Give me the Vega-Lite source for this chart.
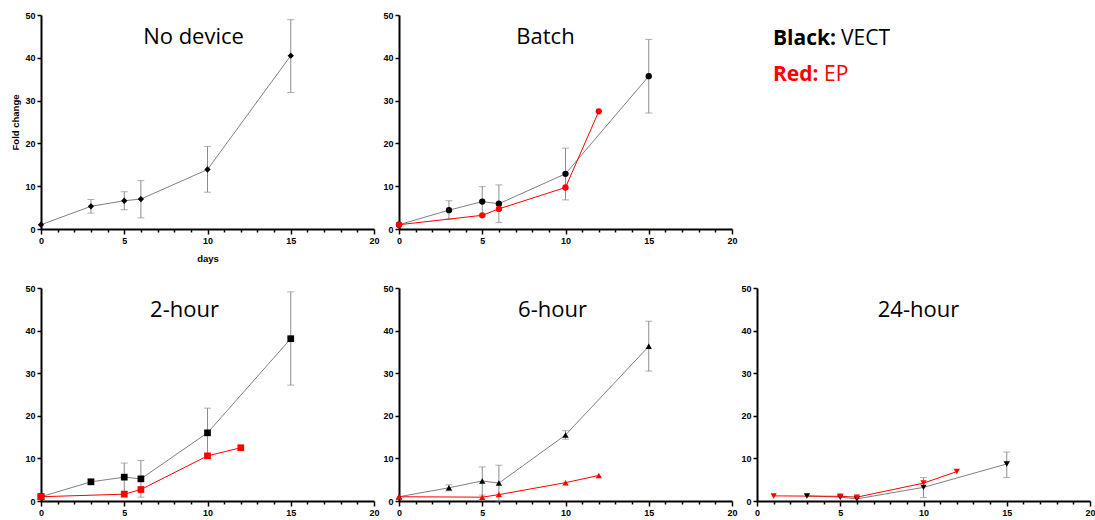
{
"$schema": "https://vega.github.io/schema/vega-lite/v6.json",
"background": "white",
"padding": {"left": 10, "top": 11, "right": 0, "bottom": 5},
"config": {
 "view": {"stroke": null},
 "font": "Liberation Sans",
 "axis": {"grid": false, "domainColor": "#000", "domainWidth": 2, "tickColor": "#000", "tickWidth": 1.5, "labelFont": "Liberation Sans", "labelFontSize": 9, "labelFontWeight": "bold", "labelColor": "#000", "labelFlush": false, "labelOverlap": false, "titleFont": "Liberation Sans", "titleFontSize": 9.5, "titleFontWeight": "bold", "titleColor": "#000"},
 "axisY": {"tickCount": 5, "tickSize": 4, "labelPadding": 2, "titlePadding": 4},
 "axisX": {"labelPadding": 2, "titlePadding": 8},
 "title": {"font": "Open Sans", "fontSize": 22, "fontWeight": "normal", "color": "#000", "anchor": "middle", "offset": -38}
},
"datasets": {
 "d": [
  {"panel": "No device", "s": "VECT", "day": 0, "v": 1.0, "lo": null, "hi": null},
  {"panel": "No device", "s": "VECT", "day": 3, "v": 5.3, "lo": 3.7, "hi": 6.9},
  {"panel": "No device", "s": "VECT", "day": 5, "v": 6.6, "lo": 4.5, "hi": 8.7},
  {"panel": "No device", "s": "VECT", "day": 6, "v": 7.0, "lo": 2.6, "hi": 11.3},
  {"panel": "No device", "s": "VECT", "day": 10, "v": 13.9, "lo": 8.6, "hi": 19.3},
  {"panel": "No device", "s": "VECT", "day": 15, "v": 40.5, "lo": 31.9, "hi": 48.9},
  {"panel": "Batch", "s": "VECT", "day": 0, "v": 1.0, "lo": null, "hi": null},
  {"panel": "Batch", "s": "VECT", "day": 3, "v": 4.4, "lo": 2.3, "hi": 6.6},
  {"panel": "Batch", "s": "VECT", "day": 5, "v": 6.4, "lo": 2.9, "hi": 9.9},
  {"panel": "Batch", "s": "VECT", "day": 6, "v": 5.9, "lo": 1.5, "hi": 10.3},
  {"panel": "Batch", "s": "VECT", "day": 10, "v": 12.9, "lo": 6.8, "hi": 18.9},
  {"panel": "Batch", "s": "VECT", "day": 15, "v": 35.7, "lo": 27.1, "hi": 44.3},
  {"panel": "Batch", "s": "EP", "day": 0, "v": 1.0, "lo": null, "hi": null},
  {"panel": "Batch", "s": "EP", "day": 5, "v": 3.2, "lo": null, "hi": null},
  {"panel": "Batch", "s": "EP", "day": 6, "v": 4.7, "lo": null, "hi": null},
  {"panel": "Batch", "s": "EP", "day": 10, "v": 9.7, "lo": null, "hi": null},
  {"panel": "Batch", "s": "EP", "day": 12, "v": 27.5, "lo": null, "hi": null},
  {"panel": "2-hour", "s": "VECT", "day": 0, "v": 1.0, "lo": null, "hi": null},
  {"panel": "2-hour", "s": "VECT", "day": 3, "v": 4.5, "lo": 3.9, "hi": 5.1},
  {"panel": "2-hour", "s": "VECT", "day": 5, "v": 5.6, "lo": 2.3, "hi": 8.9},
  {"panel": "2-hour", "s": "VECT", "day": 6, "v": 5.2, "lo": 0.9, "hi": 9.5},
  {"panel": "2-hour", "s": "VECT", "day": 10, "v": 16.0, "lo": 10.2, "hi": 21.8},
  {"panel": "2-hour", "s": "VECT", "day": 15, "v": 38.1, "lo": 27.2, "hi": 49.1},
  {"panel": "2-hour", "s": "EP", "day": 0, "v": 1.0, "lo": null, "hi": null},
  {"panel": "2-hour", "s": "EP", "day": 5, "v": 1.6, "lo": null, "hi": null},
  {"panel": "2-hour", "s": "EP", "day": 6, "v": 2.7, "lo": null, "hi": null},
  {"panel": "2-hour", "s": "EP", "day": 10, "v": 10.6, "lo": null, "hi": null},
  {"panel": "2-hour", "s": "EP", "day": 12, "v": 12.5, "lo": null, "hi": null},
  {"panel": "6-hour", "s": "VECT", "day": 0, "v": 1.0, "lo": null, "hi": null},
  {"panel": "6-hour", "s": "VECT", "day": 3, "v": 3.1, "lo": 2.4, "hi": 3.8},
  {"panel": "6-hour", "s": "VECT", "day": 5, "v": 4.7, "lo": 1.4, "hi": 8.0},
  {"panel": "6-hour", "s": "VECT", "day": 6, "v": 4.2, "lo": 0.0, "hi": 8.4},
  {"panel": "6-hour", "s": "VECT", "day": 10, "v": 15.5, "lo": 14.5, "hi": 16.5},
  {"panel": "6-hour", "s": "VECT", "day": 15, "v": 36.3, "lo": 30.5, "hi": 42.2},
  {"panel": "6-hour", "s": "EP", "day": 0, "v": 1.0, "lo": null, "hi": null},
  {"panel": "6-hour", "s": "EP", "day": 5, "v": 0.9, "lo": null, "hi": null},
  {"panel": "6-hour", "s": "EP", "day": 6, "v": 1.5, "lo": null, "hi": null},
  {"panel": "6-hour", "s": "EP", "day": 10, "v": 4.3, "lo": null, "hi": null},
  {"panel": "6-hour", "s": "EP", "day": 12, "v": 6.0, "lo": null, "hi": null},
  {"panel": "24-hour", "s": "VECT", "day": 3, "v": 1.2, "lo": null, "hi": null},
  {"panel": "24-hour", "s": "VECT", "day": 5, "v": 0.9, "lo": null, "hi": null},
  {"panel": "24-hour", "s": "VECT", "day": 6, "v": 0.5, "lo": null, "hi": null},
  {"panel": "24-hour", "s": "VECT", "day": 10, "v": 3.2, "lo": 0.8, "hi": 5.5},
  {"panel": "24-hour", "s": "VECT", "day": 15, "v": 8.7, "lo": 5.5, "hi": 11.5},
  {"panel": "24-hour", "s": "EP", "day": 1, "v": 1.2, "lo": null, "hi": null},
  {"panel": "24-hour", "s": "EP", "day": 5, "v": 1.1, "lo": null, "hi": null},
  {"panel": "24-hour", "s": "EP", "day": 6, "v": 0.9, "lo": null, "hi": null},
  {"panel": "24-hour", "s": "EP", "day": 10, "v": 4.2, "lo": null, "hi": null},
  {"panel": "24-hour", "s": "EP", "day": 12, "v": 6.9, "lo": null, "hi": null}
 ],
 "legend": [
  {"key": "Black:", "val": "VECT"},
  {"key": "Red:", "val": "EP"}
 ]
},
"spacing": 21,
"vconcat": [
 {
  "bounds": "flush",
  "spacing": 25,
  "hconcat": [
   {
    "width": 333, "height": 214,
    "title": {"text": "No device", "dx": -14},
    "data": {"name": "d"},
    "transform": [{"filter": "datum.panel === 'No device'"}],
    "encoding": {"x": {"field": "day", "type": "quantitative", "scale": {"domain": [0, 20], "nice": false}, "axis": {"values": [0,1,2,3,4,5,6,7,8,9,10,11,12,13,14,15,16,17,18,19,20], "labelExpr": "datum.value % 5 === 0 ? datum.label : ''", "tickSize": {"condition": {"test": "datum.value % 5 === 0", "value": 5}, "value": 3}, "title": "days"}}},
    "layer": [
     {"transform": [{"filter": "isValid(datum.hi)"}], "mark": {"type": "rule", "color": "#8c8c8c", "strokeWidth": 1}, "encoding": {"y": {"field": "lo", "type": "quantitative", "scale": {"domain": [0, 50], "nice": false}, "title": "Fold change"}, "y2": {"field": "hi"}}},
     {"transform": [{"filter": "isValid(datum.hi)"}], "mark": {"type": "tick", "orient": "horizontal", "size": 7, "thickness": 1, "color": "#8c8c8c"}, "encoding": {"y": {"field": "hi", "type": "quantitative", "scale": {"domain": [0, 50], "nice": false}, "title": "Fold change"}}},
     {"transform": [{"filter": "isValid(datum.hi)"}], "mark": {"type": "tick", "orient": "horizontal", "size": 7, "thickness": 1, "color": "#8c8c8c"}, "encoding": {"y": {"field": "lo", "type": "quantitative", "scale": {"domain": [0, 50], "nice": false}, "title": "Fold change"}}},
     {"mark": {"type": "line", "strokeWidth": 1}, "encoding": {"y": {"field": "v", "type": "quantitative", "scale": {"domain": [0, 50], "nice": false}, "title": "Fold change"}, "stroke": {"field": "s", "type": "nominal", "scale": {"domain": ["VECT", "EP"], "range": ["#7f7f7f", "#ff0000"]}, "legend": null}}},
     {"mark": {"type": "point", "shape": "diamond", "filled": true, "size": 40, "opacity": 1}, "encoding": {"y": {"field": "v", "type": "quantitative", "scale": {"domain": [0, 50], "nice": false}, "title": "Fold change"}, "fill": {"field": "s", "type": "nominal", "scale": {"domain": ["VECT", "EP"], "range": ["#000000", "#ff0000"]}, "legend": null}}}
    ]
   },
   {
    "width": 333, "height": 214,
    "title": {"text": "Batch", "dx": -20},
    "data": {"name": "d"},
    "transform": [{"filter": "datum.panel === 'Batch'"}],
    "encoding": {"x": {"field": "day", "type": "quantitative", "scale": {"domain": [0, 20], "nice": false}, "axis": {"values": [0,1,2,3,4,5,6,7,8,9,10,11,12,13,14,15,16,17,18,19,20], "labelExpr": "datum.value % 5 === 0 ? datum.label : ''", "tickSize": {"condition": {"test": "datum.value % 5 === 0", "value": 5}, "value": 3}, "title": null}}},
    "layer": [
     {"transform": [{"filter": "isValid(datum.hi)"}], "mark": {"type": "rule", "color": "#8c8c8c", "strokeWidth": 1}, "encoding": {"y": {"field": "lo", "type": "quantitative", "scale": {"domain": [0, 50], "nice": false}, "title": null}, "y2": {"field": "hi"}}},
     {"transform": [{"filter": "isValid(datum.hi)"}], "mark": {"type": "tick", "orient": "horizontal", "size": 7, "thickness": 1, "color": "#8c8c8c"}, "encoding": {"y": {"field": "hi", "type": "quantitative", "scale": {"domain": [0, 50], "nice": false}, "title": null}}},
     {"transform": [{"filter": "isValid(datum.hi)"}], "mark": {"type": "tick", "orient": "horizontal", "size": 7, "thickness": 1, "color": "#8c8c8c"}, "encoding": {"y": {"field": "lo", "type": "quantitative", "scale": {"domain": [0, 50], "nice": false}, "title": null}}},
     {"mark": {"type": "line", "strokeWidth": 1}, "encoding": {"y": {"field": "v", "type": "quantitative", "scale": {"domain": [0, 50], "nice": false}, "title": null}, "stroke": {"field": "s", "type": "nominal", "scale": {"domain": ["VECT", "EP"], "range": ["#7f7f7f", "#ff0000"]}, "legend": null}}},
     {"mark": {"type": "point", "shape": "circle", "filled": true, "size": 40, "opacity": 1}, "encoding": {"y": {"field": "v", "type": "quantitative", "scale": {"domain": [0, 50], "nice": false}, "title": null}, "fill": {"field": "s", "type": "nominal", "scale": {"domain": ["VECT", "EP"], "range": ["#000000", "#ff0000"]}, "legend": null}}}
    ]
   },
   {
    "width": 32, "height": 84,
    "data": {"name": "legend"},
    "encoding": {
     "y": {"field": "key", "type": "nominal", "sort": null, "scale": {"padding": 0.657}, "axis": null},
     "color": {"field": "key", "type": "nominal", "scale": {"domain": ["Black:", "Red:"], "range": ["#000000", "#ff0000"]}, "legend": null}
    },
    "layer": [
     {"mark": {"type": "text", "align": "left", "baseline": "middle", "font": "Open Sans", "fontSize": 21, "fontWeight": "bold"}, "encoding": {"text": {"field": "key"}}},
     {"mark": {"type": "text", "align": "left", "baseline": "middle", "font": "Open Sans", "fontSize": 21, "fontWeight": "normal", "dx": {"expr": "datum.key === 'Black:' ? 68 : 51"}}, "encoding": {"text": {"field": "val"}}}
    ]
   }
  ]
 },
 {
  "bounds": "flush",
  "spacing": 25,
  "hconcat": [
   {
    "width": 333, "height": 213,
    "title": {"text": "2-hour", "dx": -23},
    "data": {"name": "d"},
    "transform": [{"filter": "datum.panel === '2-hour'"}],
    "encoding": {"x": {"field": "day", "type": "quantitative", "scale": {"domain": [0, 20], "nice": false}, "axis": {"values": [0,1,2,3,4,5,6,7,8,9,10,11,12,13,14,15,16,17,18,19,20], "labelExpr": "datum.value % 5 === 0 ? datum.label : ''", "tickSize": {"condition": {"test": "datum.value % 5 === 0", "value": 5}, "value": 3}, "title": null}}},
    "layer": [
     {"transform": [{"filter": "isValid(datum.hi)"}], "mark": {"type": "rule", "color": "#8c8c8c", "strokeWidth": 1}, "encoding": {"y": {"field": "lo", "type": "quantitative", "scale": {"domain": [0, 50], "nice": false}, "title": null}, "y2": {"field": "hi"}}},
     {"transform": [{"filter": "isValid(datum.hi)"}], "mark": {"type": "tick", "orient": "horizontal", "size": 7, "thickness": 1, "color": "#8c8c8c"}, "encoding": {"y": {"field": "hi", "type": "quantitative", "scale": {"domain": [0, 50], "nice": false}, "title": null}}},
     {"transform": [{"filter": "isValid(datum.hi)"}], "mark": {"type": "tick", "orient": "horizontal", "size": 7, "thickness": 1, "color": "#8c8c8c"}, "encoding": {"y": {"field": "lo", "type": "quantitative", "scale": {"domain": [0, 50], "nice": false}, "title": null}}},
     {"mark": {"type": "line", "strokeWidth": 1}, "encoding": {"y": {"field": "v", "type": "quantitative", "scale": {"domain": [0, 50], "nice": false}, "title": null}, "stroke": {"field": "s", "type": "nominal", "scale": {"domain": ["VECT", "EP"], "range": ["#7f7f7f", "#ff0000"]}, "legend": null}}},
     {"mark": {"type": "point", "shape": "square", "filled": true, "size": 45, "opacity": 1}, "encoding": {"y": {"field": "v", "type": "quantitative", "scale": {"domain": [0, 50], "nice": false}, "title": null}, "fill": {"field": "s", "type": "nominal", "scale": {"domain": ["VECT", "EP"], "range": ["#000000", "#ff0000"]}, "legend": null}}}
    ]
   },
   {
    "width": 333, "height": 213,
    "title": {"text": "6-hour", "dx": -13},
    "data": {"name": "d"},
    "transform": [{"filter": "datum.panel === '6-hour'"}],
    "encoding": {"x": {"field": "day", "type": "quantitative", "scale": {"domain": [0, 20], "nice": false}, "axis": {"values": [0,1,2,3,4,5,6,7,8,9,10,11,12,13,14,15,16,17,18,19,20], "labelExpr": "datum.value % 5 === 0 ? datum.label : ''", "tickSize": {"condition": {"test": "datum.value % 5 === 0", "value": 5}, "value": 3}, "title": null}}},
    "layer": [
     {"transform": [{"filter": "isValid(datum.hi)"}], "mark": {"type": "rule", "color": "#8c8c8c", "strokeWidth": 1}, "encoding": {"y": {"field": "lo", "type": "quantitative", "scale": {"domain": [0, 50], "nice": false}, "title": null}, "y2": {"field": "hi"}}},
     {"transform": [{"filter": "isValid(datum.hi)"}], "mark": {"type": "tick", "orient": "horizontal", "size": 7, "thickness": 1, "color": "#8c8c8c"}, "encoding": {"y": {"field": "hi", "type": "quantitative", "scale": {"domain": [0, 50], "nice": false}, "title": null}}},
     {"transform": [{"filter": "isValid(datum.hi)"}], "mark": {"type": "tick", "orient": "horizontal", "size": 7, "thickness": 1, "color": "#8c8c8c"}, "encoding": {"y": {"field": "lo", "type": "quantitative", "scale": {"domain": [0, 50], "nice": false}, "title": null}}},
     {"mark": {"type": "line", "strokeWidth": 1}, "encoding": {"y": {"field": "v", "type": "quantitative", "scale": {"domain": [0, 50], "nice": false}, "title": null}, "stroke": {"field": "s", "type": "nominal", "scale": {"domain": ["VECT", "EP"], "range": ["#7f7f7f", "#ff0000"]}, "legend": null}}},
     {"mark": {"type": "point", "shape": "triangle-up", "filled": true, "size": 40, "opacity": 1}, "encoding": {"y": {"field": "v", "type": "quantitative", "scale": {"domain": [0, 50], "nice": false}, "title": null}, "fill": {"field": "s", "type": "nominal", "scale": {"domain": ["VECT", "EP"], "range": ["#000000", "#ff0000"]}, "legend": null}}}
    ]
   },
   {
    "width": 333, "height": 213,
    "title": {"text": "24-hour", "dx": -5},
    "data": {"name": "d"},
    "transform": [{"filter": "datum.panel === '24-hour'"}],
    "encoding": {"x": {"field": "day", "type": "quantitative", "scale": {"domain": [0, 20], "nice": false}, "axis": {"values": [0,1,2,3,4,5,6,7,8,9,10,11,12,13,14,15,16,17,18,19,20], "labelExpr": "datum.value % 5 === 0 ? datum.label : ''", "tickSize": {"condition": {"test": "datum.value % 5 === 0", "value": 5}, "value": 3}, "title": null}}},
    "layer": [
     {"transform": [{"filter": "isValid(datum.hi)"}], "mark": {"type": "rule", "color": "#8c8c8c", "strokeWidth": 1}, "encoding": {"y": {"field": "lo", "type": "quantitative", "scale": {"domain": [0, 50], "nice": false}, "title": null}, "y2": {"field": "hi"}}},
     {"transform": [{"filter": "isValid(datum.hi)"}], "mark": {"type": "tick", "orient": "horizontal", "size": 7, "thickness": 1, "color": "#8c8c8c"}, "encoding": {"y": {"field": "hi", "type": "quantitative", "scale": {"domain": [0, 50], "nice": false}, "title": null}}},
     {"transform": [{"filter": "isValid(datum.hi)"}], "mark": {"type": "tick", "orient": "horizontal", "size": 7, "thickness": 1, "color": "#8c8c8c"}, "encoding": {"y": {"field": "lo", "type": "quantitative", "scale": {"domain": [0, 50], "nice": false}, "title": null}}},
     {"mark": {"type": "line", "strokeWidth": 1}, "encoding": {"y": {"field": "v", "type": "quantitative", "scale": {"domain": [0, 50], "nice": false}, "title": null}, "stroke": {"field": "s", "type": "nominal", "scale": {"domain": ["VECT", "EP"], "range": ["#7f7f7f", "#ff0000"]}, "legend": null}}},
     {"mark": {"type": "point", "shape": "triangle-down", "filled": true, "size": 40, "opacity": 1}, "encoding": {"y": {"field": "v", "type": "quantitative", "scale": {"domain": [0, 50], "nice": false}, "title": null}, "fill": {"field": "s", "type": "nominal", "scale": {"domain": ["VECT", "EP"], "range": ["#000000", "#ff0000"]}, "legend": null}}}
    ]
   }
  ]
 }
]
}
